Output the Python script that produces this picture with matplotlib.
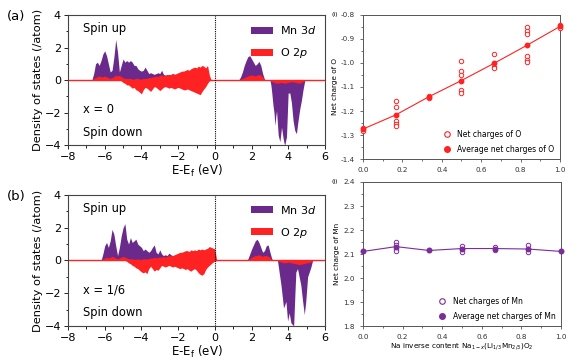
"""
plot.py
DOS of Na(1-x)(Li1/3Mn2/3)O2 at x = 0 and x = 1/6, plus net charges of O and Mn.
"""

import numpy as np
import matplotlib
matplotlib.use('Agg')
import matplotlib.pyplot as plt
from matplotlib.patches import Patch
from matplotlib.lines import Line2D
from matplotlib.ticker import MultipleLocator

PURPLE = '#6a2a8c'
RED = '#ff2222'

# ---- panel (a): x = 0 ----
a_val_e = np.round(np.arange(-6.7, -0.15, 0.1), 2)
a_mn_up = [0.0, 0.4, 1.0, 1.1, 0.9, 1.2, 1.6, 1.8, 1.5, 1.0,
           0.5, 0.6, 1.4, 2.5, 1.7, 0.5, 0.9, 1.3, 1.1, 1.2,
           1.1, 1.2, 1.1, 0.9, 0.9, 0.7, 0.6, 0.55, 0.6, 0.8,
           0.6, 0.4, 0.45, 0.4, 0.35, 0.4, 0.45, 0.4, 0.6, 0.35,
           0.3, 0.3, 0.35, 0.3, 0.4, 0.35, 0.3, 0.35, 0.3, 0.3,
           0.25, 0.2, 0.2, 0.15, 0.15, 0.15, 0.1, 0.1, 0.1, 0.1,
           0.1, 0.1, 0.1, 0.05, 0.0, 0.0]
a_o_up = [0.0, 0.1, 0.15, 0.2, 0.25, 0.2, 0.2, 0.25, 0.2, 0.15,
          0.1, 0.15, 0.2, 0.3, 0.25, 0.3, 0.2, 0.15, 0.1, 0.1,
          0.1, 0.1, 0.05, 0.05, 0.1, 0.1, 0.05, 0.05, 0.1, 0.1,
          0.1, 0.15, 0.15, 0.2, 0.2, 0.25, 0.2, 0.3, 0.3, 0.25,
          0.3, 0.35, 0.3, 0.35, 0.4, 0.35, 0.4, 0.45, 0.5, 0.55,
          0.55, 0.6, 0.65, 0.6, 0.7, 0.75, 0.8, 0.75, 0.85, 0.8,
          0.9, 0.85, 0.75, 0.9, 0.3, 0.0]
a_o_dn = [0.0, 0.0, 0.0, 0.0, 0.0, 0.0, 0.0, 0.0, 0.0, 0.0,
          0.0, 0.0, 0.0, 0.0, 0.0, 0.0, -0.05, -0.15, -0.2, -0.3,
          -0.3, -0.4, -0.5, -0.45, -0.6, -0.65, -0.75, -0.85, -0.6, -0.45,
          -0.5, -0.6, -0.7, -0.55, -0.4, -0.45, -0.55, -0.65, -0.55, -0.45,
          -0.4, -0.45, -0.5, -0.45, -0.5, -0.55, -0.5, -0.45, -0.5, -0.55,
          -0.6, -0.6, -0.55, -0.6, -0.65, -0.7, -0.75, -0.8, -0.85, -0.9,
          -0.7, -0.55, -0.4, -0.2, -0.05, 0.0]

a_cb_up_e = [1.3, 1.4, 1.5, 1.6, 1.7, 1.8, 1.9, 2.0, 2.1, 2.2, 2.3, 2.4, 2.5, 2.6, 2.7, 2.8]
a_cb_mn_up = [0.0, 0.2, 0.5, 0.9, 1.2, 1.45, 1.5, 1.3, 1.1, 0.9, 1.0, 1.15, 0.9, 0.4, 0.05, 0.0]
a_cb_o_up = [0.0, 0.05, 0.1, 0.15, 0.2, 0.25, 0.3, 0.3, 0.3, 0.25, 0.3, 0.35, 0.3, 0.2, 0.05, 0.0]

a_cb_dn_e = [3.0, 3.05, 3.1, 3.17, 3.22, 3.27, 3.32, 3.36, 3.45, 3.54, 3.6, 3.63, 3.68, 3.72,
             3.77, 3.81, 3.86, 3.9, 3.95, 3.99, 4.08, 4.17, 4.26, 4.35, 4.44, 4.53, 4.62,
             4.72, 4.8, 4.9]
a_cb_mn_dn = [0.0, -0.3, -0.8, -1.6, -2.0, -2.8, -2.2, -1.9, -3.4, -3.8, -3.2, -2.9, -3.3, -3.6,
              -3.9, -4.0, -3.7, -3.5, -2.0, -0.8, -0.8, -1.4, -2.5, -3.1, -3.3, -2.5, -1.8,
              -1.2, -0.6, 0.0]
a_cb_o_dn_e = [3.0, 3.2, 3.4, 3.6, 3.8, 4.0, 4.2, 4.4, 4.6, 4.8, 4.9]
a_cb_o_dn = [0.0, -0.15, -0.2, -0.15, -0.2, -0.15, -0.1, -0.15, -0.2, -0.1, 0.0]

# ---- panel (b): x = 1/6 ----
b_val_e = np.round(np.arange(-6.2, 0.15, 0.1), 2)
b_mn_up = [0.0, 0.4, 0.9, 1.1, 0.8, 1.2, 1.9, 1.6, 0.9, 0.3,
           0.8, 1.5, 2.0, 2.25, 1.3, 1.0, 1.4, 1.1, 1.2, 1.3,
           1.0, 0.9, 0.8, 0.6, 0.7, 0.6, 0.5, 0.6, 0.8, 0.95,
           0.5, 0.4, 0.65, 0.4, 0.3, 0.35, 0.3, 0.45, 0.35, 0.3,
           0.3, 0.35, 0.3, 0.35, 0.3, 0.25, 0.25, 0.2, 0.2, 0.15,
           0.15, 0.1, 0.1, 0.1, 0.1, 0.1, 0.1, 0.1, 0.1, 0.1,
           0.05, 0.05, 0.0, 0.0]
b_o_up = [0.0, 0.1, 0.15, 0.2, 0.15, 0.2, 0.25, 0.2, 0.15, 0.1,
          0.15, 0.2, 0.25, 0.2, 0.15, 0.1, 0.1, 0.1, 0.05, 0.05,
          0.1, 0.05, 0.05, 0.1, 0.1, 0.1, 0.1, 0.15, 0.15, 0.2,
          0.15, 0.2, 0.2, 0.2, 0.25, 0.2, 0.25, 0.3, 0.3, 0.3,
          0.35, 0.4, 0.45, 0.5, 0.5, 0.55, 0.6, 0.6, 0.55, 0.65,
          0.6, 0.65, 0.6, 0.7, 0.65, 0.7, 0.65, 0.7, 0.75, 0.85,
          0.8, 0.75, 0.7, 0.0]
b_o_dn = [0.0, 0.0, 0.0, 0.0, 0.0, 0.0, 0.0, 0.0, 0.0, 0.0,
          0.0, 0.0, 0.0, 0.0, -0.05, -0.15, -0.2, -0.3, -0.35, -0.45,
          -0.5, -0.6, -0.7, -0.75, -0.7, -0.8, -0.5, -0.35, -0.5, -0.65,
          -0.55, -0.6, -0.45, -0.3, -0.35, -0.4, -0.35, -0.3, -0.35, -0.4,
          -0.35, -0.4, -0.45, -0.5, -0.45, -0.5, -0.55, -0.5, -0.6, -0.65,
          -0.55, -0.5, -0.6, -0.75, -0.85, -0.9, -0.8, -0.55, -0.4, -0.3,
          -0.2, -0.1, -0.05, 0.0]

b_cb_up_e = [1.7, 1.8, 1.9, 2.0, 2.1, 2.2, 2.3, 2.4, 2.5, 2.6, 2.7, 2.8, 2.9, 3.0, 3.1, 3.2]
b_cb_mn_up = [0.0, 0.1, 0.4, 0.7, 0.95, 1.2, 1.3, 1.1, 0.8, 0.5, 0.6, 0.9, 0.95, 0.5, 0.1, 0.0]
b_cb_o_up = [0.0, 0.05, 0.1, 0.2, 0.25, 0.3, 0.3, 0.35, 0.3, 0.25, 0.3, 0.3, 0.25, 0.2, 0.05, 0.0]

b_cb_dn_e = [3.41, 3.51, 3.6, 3.74, 3.87, 3.96, 4.05, 4.14, 4.29, 4.36, 4.41, 4.5, 4.68,
             4.77, 4.87, 4.95, 5.05, 5.23, 5.32]
b_cb_mn_dn = [0.0, -0.8, -1.5, -2.9, -2.5, -3.7, -3.2, -3.8, -4.0, -2.0, -0.7, -0.5, -1.5,
              -2.4, -3.3, -2.5, -1.0, -0.4, 0.0]
b_cb_o_dn_e = [3.4, 3.6, 3.8, 4.0, 4.2, 4.4, 4.6, 4.8, 5.0, 5.2, 5.3]
b_cb_o_dn = [0.0, -0.1, -0.15, -0.1, -0.15, -0.2, -0.25, -0.2, -0.15, -0.1, 0.0]

# ---- net charges ----
x_content = [0.0, 1/6, 1/3, 1/2, 2/3, 5/6, 1.0]
o_charges = [[-1.27, -1.285],
             [-1.16, -1.185, -1.243, -1.254, -1.264],
             [-1.137, -1.146],
             [-0.991, -1.035, -1.049, -1.114, -1.123],
             [-0.962, -1.015, -1.022],
             [-0.849, -0.865, -0.88, -0.973, -0.987, -0.998],
             [-0.842, -0.855]]
o_avg = [-1.275, -1.216, -1.141, -1.073, -1.001, -0.926, -0.848]
mn_charges = [[2.112],
              [2.15, 2.136, 2.122, 2.113],
              [2.115],
              [2.135, 2.123, 2.11],
              [2.128, 2.118],
              [2.136, 2.122, 2.108],
              [2.111]]
mn_avg = [2.111, 2.131, 2.115, 2.123, 2.123, 2.121, 2.111]


def draw_dos(ax, val_e, mn_up, o_up, o_dn, cbu_e, cb_mn_up, cb_o_up,
             cbd_e, cb_mn_dn, cbo_e, cb_o_dn, label):
    assert len(val_e) == len(mn_up) == len(o_up) == len(o_dn)
    # Mn first, O on top
    ax.fill_between(val_e, 0, mn_up, color=PURPLE, lw=0)
    ax.fill_between(cbu_e, 0, cb_mn_up, color=PURPLE, lw=0)
    ax.fill_between(cbd_e, 0, cb_mn_dn, color=PURPLE, lw=0)
    ax.fill_between(val_e, 0, o_up, color=RED, lw=0)
    ax.fill_between(val_e, 0, o_dn, color=RED, lw=0)
    ax.fill_between(cbu_e, 0, cb_o_up, color=RED, lw=0)
    ax.fill_between(cbo_e, 0, cb_o_dn, color=RED, lw=0)
    ax.axhline(0, color=RED, lw=1.0)
    ax.axvline(0, color='k', lw=0.8, ls=(0, (1, 1)))

    ax.set_xlim(-8, 6)
    ax.set_ylim(-4, 4)
    ax.xaxis.set_major_locator(MultipleLocator(2))
    ax.xaxis.set_minor_locator(MultipleLocator(1))
    ax.yaxis.set_major_locator(MultipleLocator(2))
    ax.yaxis.set_minor_locator(MultipleLocator(1))
    ax.tick_params(which='both', direction='out', labelsize=8, width=0.6, pad=2)
    ax.tick_params(which='major', length=3)
    ax.tick_params(which='minor', length=1.8)
    for s in ax.spines.values():
        s.set_linewidth(0.8)
        s.set_color('#444444')

    ax.text(-7.2, 3.2, 'Spin up', fontsize=8.3, va='center')
    ax.text(-7.2, -1.8, label, fontsize=8.3, va='center')
    ax.text(-7.2, -3.2, 'Spin down', fontsize=8.3, va='center')
    ax.set_xlabel('E-E$_\\mathrm{f}$ (eV)', fontsize=8.5, labelpad=1)
    ax.set_ylabel('Density of states (/atom)', fontsize=8.2, labelpad=1)

    handles = [Patch(color=PURPLE, lw=0), Patch(color=RED, lw=0)]
    ax.legend(handles, ['Mn 3$\\it{d}$', 'O 2$\\it{p}$'], loc='upper right',
              frameon=False, fontsize=8, handlelength=2.0, handleheight=0.6,
              labelspacing=0.9, borderaxespad=0.4, handletextpad=0.6)


def draw_charge(ax, charges, avg, color, ylim, elem, panel, xlabel=None):
    for xv, vals in zip(x_content, charges):
        ax.plot([xv] * len(vals), vals, 'o', mfc='white', mec=color, ms=3.2,
                mew=0.7, ls='none', clip_on=False, zorder=3)
    ax.plot(x_content, avg, '-', color=color, lw=0.8, zorder=2)
    ax.plot(x_content, avg, 'o', color=color, ms=3.2, ls='none',
            clip_on=False, zorder=4)

    ax.set_xlim(0, 1)
    ax.set_ylim(*ylim)
    ax.xaxis.set_major_locator(MultipleLocator(0.2))
    ax.xaxis.set_minor_locator(MultipleLocator(0.1))
    ax.yaxis.set_major_locator(MultipleLocator(0.1))
    ax.yaxis.set_minor_locator(MultipleLocator(0.05))
    ax.xaxis.set_major_formatter(plt.FormatStrFormatter('%.1f'))
    ax.yaxis.set_major_formatter(plt.FormatStrFormatter('%.1f'))
    ax.tick_params(which='both', direction='out', labelsize=5.2, width=0.5,
                   colors='#333333')
    ax.tick_params(which='major', length=2.5)
    ax.tick_params(which='minor', length=1.5)
    for s in ax.spines.values():
        s.set_linewidth(0.7)
        s.set_color('#555555')
    ax.set_ylabel('Net charge of ' + elem, fontsize=5.2, labelpad=2)
    if xlabel:
        ax.set_xlabel(xlabel, fontsize=5.2, labelpad=1)
    ax.text(-0.16, 1.0, panel, transform=ax.transAxes, fontsize=4.5,
            va='center', ha='left')

    handles = [Line2D([], [], marker='o', mfc='white', mec=color, mew=0.8,
                      ms=4, ls='none'),
               Line2D([], [], marker='o', color=color, ms=4, ls='none')]
    ax.legend(handles, ['Net charges of ' + elem, 'Average net charges of ' + elem],
              loc='lower right', frameon=False, fontsize=5.5, handletextpad=0.4,
              labelspacing=0.8, borderaxespad=0.3)


fig = plt.figure(figsize=(5.79, 3.64), dpi=100)
ax_a = fig.add_axes([0.1174, 0.6016, 0.444, 0.357])
ax_b = fig.add_axes([0.1174, 0.1044, 0.444, 0.36])
ax_i = fig.add_axes([0.627, 0.563, 0.340, 0.396])
ax_j = fig.add_axes([0.627, 0.104, 0.342, 0.396])

draw_dos(ax_a, a_val_e, a_mn_up, a_o_up, a_o_dn, a_cb_up_e, a_cb_mn_up, a_cb_o_up,
         a_cb_dn_e, a_cb_mn_dn, a_cb_o_dn_e, a_cb_o_dn, 'x = 0')
draw_dos(ax_b, b_val_e, b_mn_up, b_o_up, b_o_dn, b_cb_up_e, b_cb_mn_up, b_cb_o_up,
         b_cb_dn_e, b_cb_mn_dn, b_cb_o_dn_e, b_cb_o_dn, 'x = 1/6')

fig.text(0.012, 0.955, '(a)', fontsize=9.5, va='center')
fig.text(0.012, 0.46, '(b)', fontsize=9.5, va='center')

draw_charge(ax_i, o_charges, o_avg, RED, (-1.4, -0.8), 'O', '(i)')
draw_charge(ax_j, mn_charges, mn_avg, '#7b2d9b', (1.8, 2.4), 'Mn', '(j)',
            xlabel='Na inverse content Na$_{1-x}$(Li$_{1/3}$Mn$_{2/3}$)O$_2$')

fig.savefig('out.png', dpi=100)
